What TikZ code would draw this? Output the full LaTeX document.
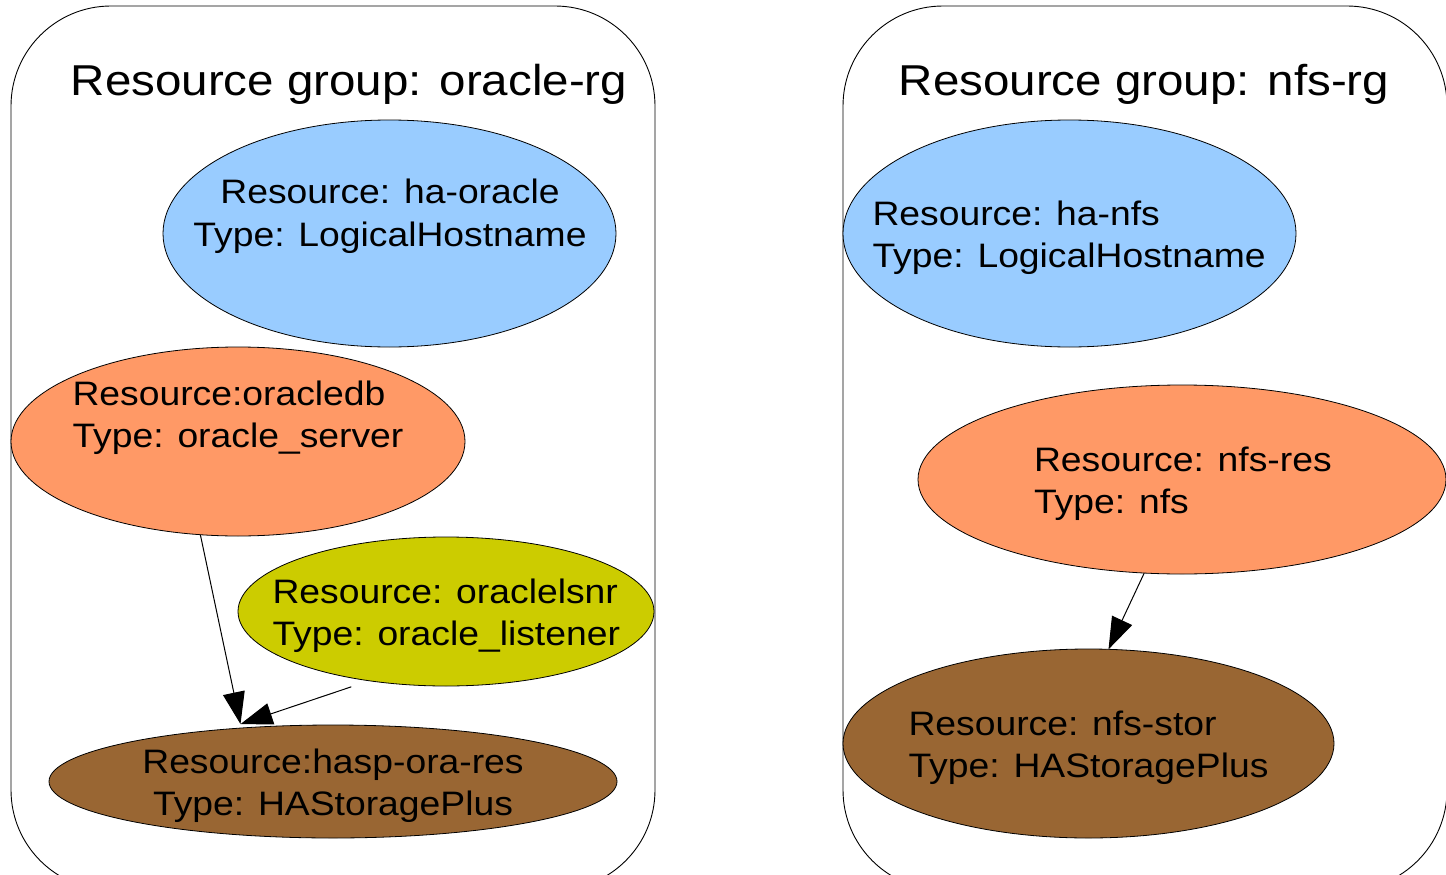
\documentclass[tikz,border=0pt]{standalone}
\usepackage{fontspec}
\setmainfont{Liberation Sans}
\newfontfamily\nodefont[FakeStretch=1.1]{Liberation Sans}
\usetikzlibrary{arrows.meta,shapes.geometric}
\definecolor{lhblue}{HTML}{99CCFF}
\definecolor{srvorange}{HTML}{FF9966}
\definecolor{lsnryellow}{HTML}{CCCC00}
\definecolor{storbrown}{HTML}{996633}
\begin{document}
\begin{tikzpicture}[x=1pt,y=-1pt,
  group/.style={draw=black, line width=0.9pt, rounded corners=100pt, rectangle, inner sep=0pt, outer sep=0pt, anchor=north west},
  res/.style={ellipse, draw=black, line width=0.8pt, inner sep=0pt, outer sep=0pt},
  lbl/.style={inner sep=0pt, outer sep=0pt, font=\nodefont\fontsize{33.9}{40}\selectfont},
  ttl/.style={inner sep=0pt, outer sep=0pt, font=\nodefont\fontsize{43.2}{50}\selectfont},
  dep/.style={-{Triangle[length=32pt,width=22pt]}, line width=1pt}]
\useasboundingbox (0,0) rectangle (1446,875);
\clip (0,0) rectangle (1446,875);
% groups
\node[group, minimum width=644pt, minimum height=884pt] (orarg) at (11,6) {};
\node[group, minimum width=604pt, minimum height=884pt] (nfsrg) at (843,6) {};
\node[ttl, anchor=base] (orargT) at (349,95.5) {Resource group: oracle-rg};
\node[ttl, anchor=base] (nfsrgT) at (1144,95.5) {Resource group: nfs-rg};
% oracle-rg resources
\node[res, fill=lhblue, minimum width=453pt, minimum height=227pt] (haora) at (389.5,233.5) {};
\node[lbl, anchor=base] (haoraA) at (390,203.5) {Resource: ha-oracle};
\node[lbl, anchor=base] (haoraB) at (390,246.5) {Type: LogicalHostname};
\node[res, fill=srvorange, minimum width=454pt, minimum height=189pt] (odb) at (238,441.5) {};
\node[lbl, anchor=base west] (odbA) at (72.5,405) {Resource:oracledb};
\node[lbl, anchor=base west] (odbB) at (72.5,447.5) {Type: oracle\_server};
\node[res, fill=lsnryellow, minimum width=416pt, minimum height=149pt] (lsnr) at (446,611.5) {};
\node[lbl, anchor=base west] (lsnrA) at (272.5,603.5) {Resource: oraclelsnr};
\node[lbl, anchor=base west] (lsnrB) at (272.5,645.5) {Type: oracle\_listener};
\node[res, fill=storbrown, minimum width=568pt, minimum height=113pt] (hasp) at (333,781.5) {};
\node[lbl, anchor=base] (haspA) at (333,773.5) {Resource:hasp-ora-res};
\node[lbl, anchor=base] (haspB) at (333,815.5) {Type: HAStoragePlus};
% nfs-rg resources
\node[res, fill=lhblue, minimum width=453pt, minimum height=227pt] (hanfs) at (1069.5,233.5) {};
\node[lbl, anchor=base west] (hanfsA) at (872.5,225) {Resource: ha-nfs};
\node[lbl, anchor=base west] (hanfsB) at (872.5,267.5) {Type: LogicalHostname};
\node[res, fill=srvorange, minimum width=528pt, minimum height=189pt] (nfsres) at (1182,479.5) {};
\node[lbl, anchor=base west] (nfsresA) at (1034,471.7) {Resource: nfs-res};
\node[lbl, anchor=base west] (nfsresB) at (1034,513.3) {Type: nfs};
\node[res, fill=storbrown, minimum width=491pt, minimum height=189pt] (nfsstor) at (1088.5,743.5) {};
\node[lbl, anchor=base west] (nfsstorA) at (908.5,735) {Resource: nfs-stor};
\node[lbl, anchor=base west] (nfsstorB) at (908.5,777.3) {Type: HAStoragePlus};
% dependencies
\draw[dep] (odb.248) -- ([yshift=4pt]hasp.150);
\draw[dep] ([yshift=-9pt]lsnr.215) -- ([yshift=4pt]hasp.150);
\draw[dep] (nfsres.248) -- (nfsstor.78);
\end{tikzpicture}
\end{document}
